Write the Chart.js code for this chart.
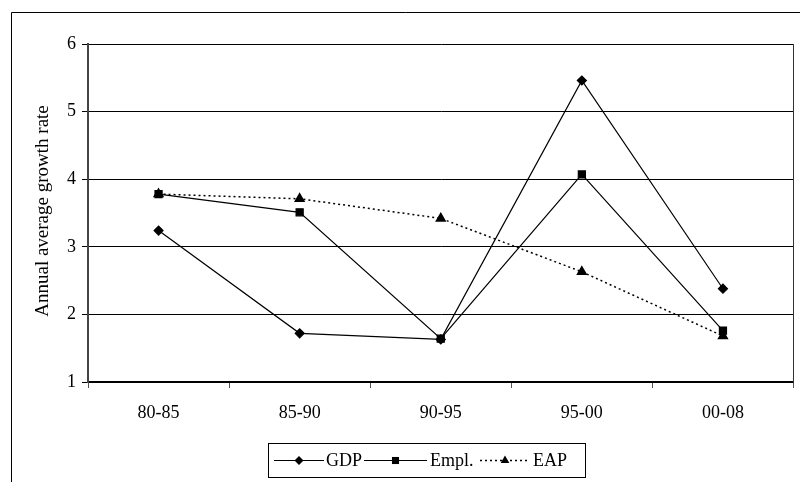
<!DOCTYPE html>
<html>
<head>
<meta charset="utf-8">
<script src="https://cdn.jsdelivr.net/npm/chart.js@4.4.0/dist/chart.umd.min.js"></script>
<style>
  html, body { margin: 0; padding: 0; background: #fff; }
  #wrap { width: 800px; height: 482px; position: relative; }
</style>
</head>
<body>
<div id="wrap"><canvas id="c" width="800" height="482"></canvas></div>
<script>
const categories = ["80-85", "85-90", "90-95", "95-00", "00-08"];
const gdpValues  = [3.24, 1.72, 1.63, 5.46, 2.38];
const emplValues = [3.78, 3.51, 1.64, 4.07, 1.76];
const eapValues  = [3.78, 3.71, 3.42, 2.63, 1.68];
const seriesLabels = ["GDP", "Empl.", "EAP"];
const yTitle = "Annual average growth rate";
const yMin = 1, yMax = 6, yStep = 1;

const FONT = "'Liberation Serif', 'Times New Roman', serif";

const framePlugin = {
  id: 'frame',
  beforeDraw(chart) {
    const ctx = chart.ctx;
    ctx.save();
    ctx.fillStyle = '#fff';
    ctx.fillRect(0, 0, chart.width, chart.height);
    ctx.strokeStyle = '#000';
    ctx.lineWidth = 1;
    ctx.beginPath();
    ctx.moveTo(11.5, chart.height);
    ctx.lineTo(11.5, 12.5);
    ctx.lineTo(chart.width, 12.5);
    ctx.stroke();
    ctx.restore();
  },
  beforeDatasetsDraw(chart) {
    const ctx = chart.ctx, a = chart.chartArea;
    ctx.save();
    ctx.strokeStyle = '#333';
    ctx.lineWidth = 1;
    ctx.beginPath();
    ctx.moveTo(Math.round(a.right) - 0.5, a.top);
    ctx.lineTo(Math.round(a.right) - 0.5, a.bottom);
    ctx.stroke();
    // y-axis title
    ctx.translate(43, 211);
    ctx.rotate(-Math.PI / 2);
    ctx.font = "19px " + FONT;
    ctx.fillStyle = '#000';
    ctx.textAlign = 'center';
    ctx.textBaseline = 'middle';
    ctx.fillText(yTitle, 0, 0);
    ctx.restore();
  },
  afterDraw(chart) {
    const ctx = chart.ctx;
    const bx = 268.5, by = 443.5, bw = 317, bh = 34;
    ctx.save();
    ctx.strokeStyle = '#000';
    ctx.lineWidth = 1;
    ctx.strokeRect(bx, by, bw, bh);
    ctx.font = "18px " + FONT;
    ctx.textBaseline = 'middle';
    ctx.fillStyle = '#000';
    const cy = by + bh / 2;
    const lineStarts = [274, 364, 480];
    const lineEnds = [324, 427, 530];
    const textStarts = [326, 430, 533];
    chart.data.datasets.forEach((ds, i) => {
      const x0 = lineStarts[i], x1 = lineEnds[i];
      ctx.save();
      ctx.strokeStyle = ds.borderColor;
      ctx.lineWidth = ds.borderWidth;
      ctx.setLineDash(ds.borderDash || []);
      ctx.beginPath();
      ctx.moveTo(x0, cy);
      ctx.lineTo(x1, cy);
      ctx.stroke();
      ctx.setLineDash([]);
      ctx.fillStyle = ds.pointBackgroundColor;
      ctx.strokeStyle = ds.pointBorderColor;
      ctx.lineWidth = 1;
      Chart.helpers.drawPoint(ctx, {pointStyle: ds.pointStyle, radius: ds.pointRadius, rotation: 0}, (x0 + x1) / 2, cy);
      ctx.restore();
      ctx.fillText(ds.label, textStarts[i], cy + 1);
    });
    ctx.restore();
  }
};

new Chart(document.getElementById('c'), {
  type: 'line',
  data: {
    labels: categories,
    datasets: [
      { label: seriesLabels[0], data: gdpValues, borderColor: '#000', borderWidth: 1.2,
        pointStyle: 'rectRot', pointRadius: 4.5, pointBackgroundColor: '#000', pointBorderColor: '#000', tension: 0 },
      { label: seriesLabels[1], data: emplValues, borderColor: '#000', borderWidth: 1.2,
        pointStyle: 'rect', pointRadius: 5, pointBackgroundColor: '#000', pointBorderColor: '#000', tension: 0 },
      { label: seriesLabels[2], data: eapValues, borderColor: '#000', borderWidth: 1.5, borderDash: [2, 3],
        pointStyle: 'triangle', pointRadius: 5, pointBackgroundColor: '#000', pointBorderColor: '#000', tension: 0 }
    ]
  },
  options: {
    responsive: false,
    animation: false,
    events: [],
    layout: { padding: { left: 0, top: 44, right: 1, bottom: 0 } },
    plugins: { legend: { display: false }, tooltip: { enabled: false }, title: { display: false } },
    elements: { line: { fill: false } },
    scales: {
      x: {
        type: 'category',
        offset: true,
        grid: { offset: true, drawOnChartArea: false, drawTicks: true, tickLength: 6, color: '#555', lineWidth: 1 },
        border: { display: true, color: '#000', width: 1.5 },
        ticks: { color: '#000', font: { family: FONT, size: 18 }, padding: 14, maxRotation: 0, autoSkip: false },
        afterFit(scale) { scale.height = 100; }
      },
      y: {
        min: yMin, max: yMax,
        ticks: { stepSize: yStep, color: '#000', font: { family: FONT, size: 18 }, padding: 6 },
        grid: { color: '#000', lineWidth: 1, tickLength: 6, drawTicks: true },
        border: { display: true, color: '#444', width: 2 },
        title: { display: false, text: yTitle },
        afterFit(scale) { scale.width = 88; }
      }
    }
  },
  plugins: [framePlugin]
});
</script>
</body>
</html>
